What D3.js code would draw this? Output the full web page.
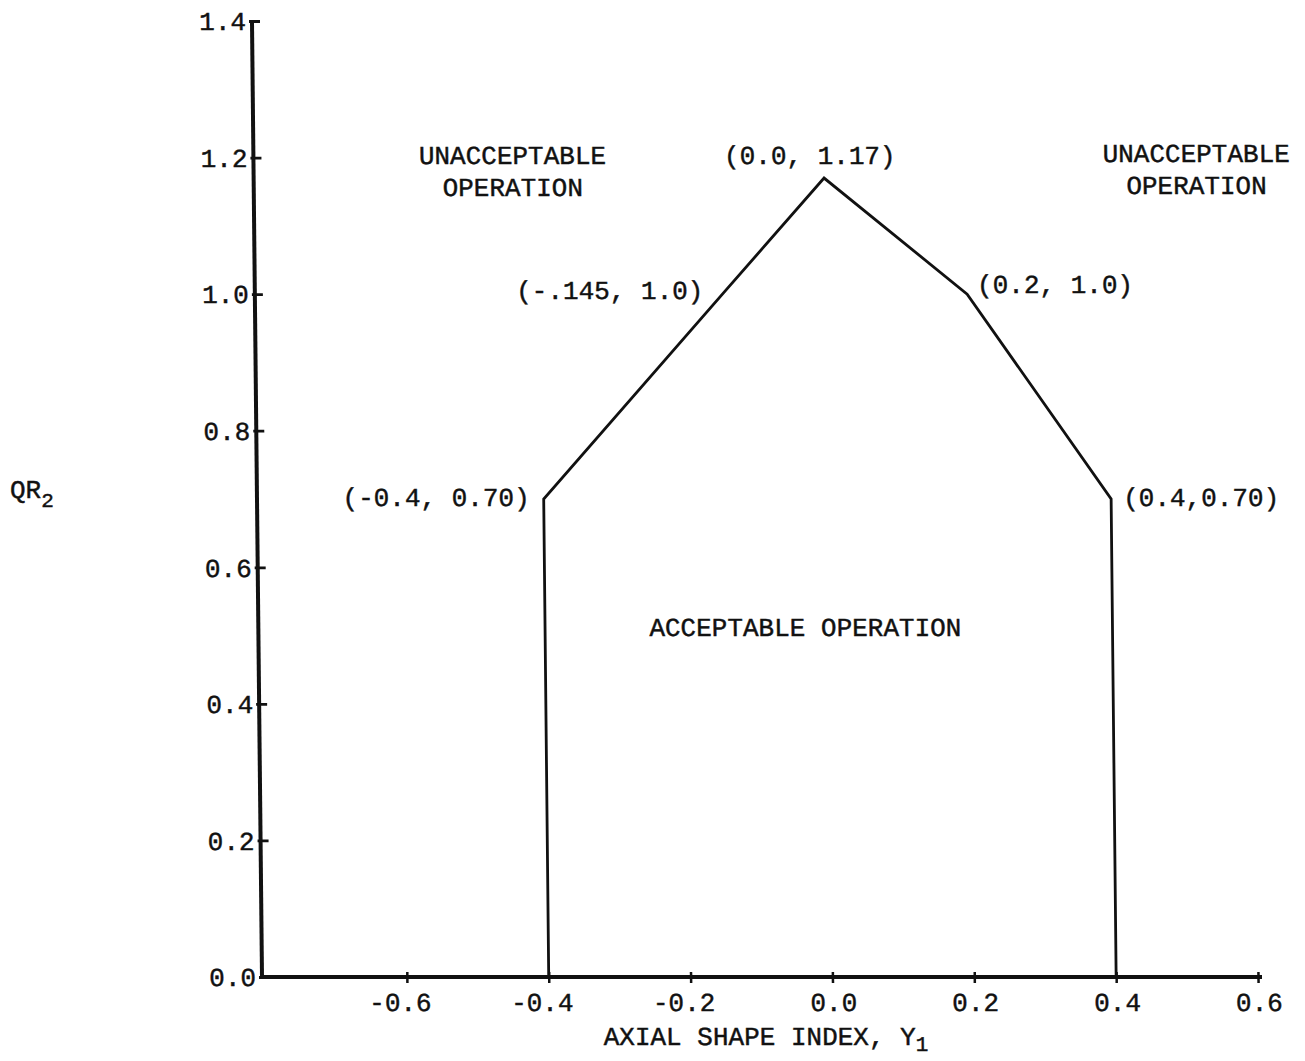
<!DOCTYPE html>
<html>
<head>
<meta charset="utf-8">
<script src="https://cdn.jsdelivr.net/npm/d3@7/dist/d3.min.js"></script>
<style>
  html, body { margin: 0; padding: 0; background: #fff; }
  svg { display: block; }
  text { font-family: "Liberation Mono", "DejaVu Sans Mono", monospace; fill: #111; stroke: #111; stroke-width: 0.45px; }
</style>
</head>
<body>
<svg id="chart" width="1305" height="1061"></svg>
<script>
// ---- data ----
const xTicks = [-0.6, -0.4, -0.2, 0.0, 0.2, 0.4, 0.6];
const xTickLabels = ["-0.6", "-0.4", "-0.2", "0.0", "0.2", "0.4", "0.6"];
const yTicks = [0.0, 0.2, 0.4, 0.6, 0.8, 1.0, 1.2, 1.4];
const yTickLabels = ["0.0", "0.2", "0.4", "0.6", "0.8", "1.0", "1.2", "1.4"];

// acceptable-operation boundary (Y1, QR2)
const boundaryX = [-0.4, -0.4, -0.145, 0.0, 0.2, 0.4, 0.4];
const boundaryY = [0.0, 0.70, 1.0, 1.17, 1.0, 0.70, 0.0];

// labelled vertices
const vertexX = [-0.4, -0.145, 0.0, 0.2, 0.4];
const vertexY = [0.70, 1.0, 1.17, 1.0, 0.70];
const vertexLabels = ["(-0.4, 0.70)", "(-.145, 1.0)", "(0.0, 1.17)", "(0.2, 1.0)", "(0.4,0.70)"];

// region annotations
const regionText = [["UNACCEPTABLE", "OPERATION"], ["UNACCEPTABLE", "OPERATION"], ["ACCEPTABLE OPERATION"]];
const regionX = [-0.439, 0.525, -0.033];
const regionY = [1.204, 1.207, 0.513];

const xTitle = "AXIAL SHAPE INDEX, Y";
const xTitleSub = "1";
const yTitle = "QR";
const yTitleSub = "2";

// ---- layout ----
const svg = d3.select("#chart");
const baseY = 977;
const x = d3.scaleLinear().domain([-0.8, 0.6]).range([265, 1258]);
const y = d3.scaleLinear().domain([0, 1.4]).range([baseY, 21]);
const axisX0 = 262;      // where the vertical axis stands
const axisXEnd = 1262;   // right end of horizontal axis
const ink = "#111";
const fs = 26;

// slight scan skew of the original drawing
const g = svg.append("g")
  .attr("transform", `translate(0,${baseY}) skewX(0.6) translate(0,${-baseY})`);

// ---- boundary polygon ----
const pts = boundaryX.map((d, i) => [d, boundaryY[i]]);
g.append("path")
  .datum(pts)
  .attr("d", d3.line().x(d => x(d[0])).y(d => y(d[1])))
  .attr("fill", "none")
  .attr("stroke", ink)
  .attr("stroke-width", 2.8)
  .attr("stroke-linejoin", "miter");

// ---- x axis ----
const xAxis = d3.axisBottom(x)
  .tickValues(xTicks)
  .tickFormat((d, i) => xTickLabels[i])
  .tickSizeOuter(0)
  .tickSizeInner(5)
  .tickPadding(0);
const gx = g.append("g").attr("transform", `translate(0,${baseY})`).call(xAxis);
gx.select(".domain").remove();
gx.append("line")
  .attr("x1", axisX0).attr("x2", axisXEnd)
  .attr("y1", 0).attr("y2", 0)
  .attr("stroke", ink).attr("stroke-width", 4);
gx.selectAll(".tick line")
  .attr("y1", -5).attr("y2", 6)
  .attr("stroke", ink).attr("stroke-width", 2.5);
gx.selectAll(".tick text")
  .attr("text-anchor", "end")
  .attr("x", 24)
  .attr("y", 34)
  .attr("dy", null)
  .style("font-size", fs + "px")
  .style("font-family", "'Liberation Mono', monospace")
  .attr("fill", ink);

// ---- y axis ----
const yAxis = d3.axisLeft(y)
  .tickValues(yTicks)
  .tickFormat((d, i) => yTickLabels[i])
  .tickSizeOuter(0)
  .tickSizeInner(4)
  .tickPadding(0);
const gy = g.append("g").attr("transform", `translate(${axisX0},0)`).call(yAxis);
gy.select(".domain").remove();
gy.append("line")
  .attr("x1", 0).attr("x2", 0)
  .attr("y1", y(1.4) - 1).attr("y2", baseY + 2)
  .attr("stroke", ink).attr("stroke-width", 4);
gy.selectAll(".tick line")
  .attr("x1", -3).attr("x2", 8)
  .attr("stroke", ink).attr("stroke-width", 2.8);
gy.selectAll(".tick text")
  .attr("text-anchor", "end")
  .attr("x", -6)
  .attr("dy", "0.34em")
  .style("font-size", fs + "px")
  .style("font-family", "'Liberation Mono', monospace")
  .attr("fill", ink);

// ---- vertex labels ----
const vOff = [
  {dx: -14, dy: 7,  anchor: "end"},
  {dx: -19, dy: 5,  anchor: "end"},
  {dx: -14, dy: -14, anchor: "middle"},
  {dx: 10,  dy: -1, anchor: "start"},
  {dx: 12,  dy: 7,  anchor: "start"}
];
g.selectAll("text.vlabel")
  .data(vertexLabels)
  .join("text")
  .attr("class", "vlabel")
  .attr("x", (d, i) => x(vertexX[i]) + vOff[i].dx)
  .attr("y", (d, i) => y(vertexY[i]) + vOff[i].dy)
  .attr("text-anchor", (d, i) => vOff[i].anchor)
  .style("font-size", fs + "px")
  .text(d => d);

// ---- region labels ----
regionText.forEach((lines, i) => {
  const t = g.append("text")
    .attr("x", x(regionX[i]))
    .attr("y", y(regionY[i]) + 9)
    .attr("text-anchor", "middle")
    .style("font-size", fs + "px");
  lines.forEach((ln, j) => {
    t.append("tspan")
      .attr("x", x(regionX[i]))
      .attr("dy", j === 0 ? 0 : 32)
      .text(ln);
  });
});

// ---- axis titles ----
const xt = g.append("text")
  .attr("x", 603)
  .attr("y", 1045)
  .style("font-size", fs + "px");
xt.append("tspan").text(xTitle);
xt.append("tspan").attr("dy", 6).style("font-size", "21px").text(xTitleSub);

const yt = svg.append("text")
  .attr("x", 10)
  .attr("y", 498)
  .style("font-size", fs + "px");
yt.append("tspan").text(yTitle);
yt.append("tspan").attr("dy", 9).style("font-size", "21px").text(yTitleSub);
</script>
</body>
</html>
